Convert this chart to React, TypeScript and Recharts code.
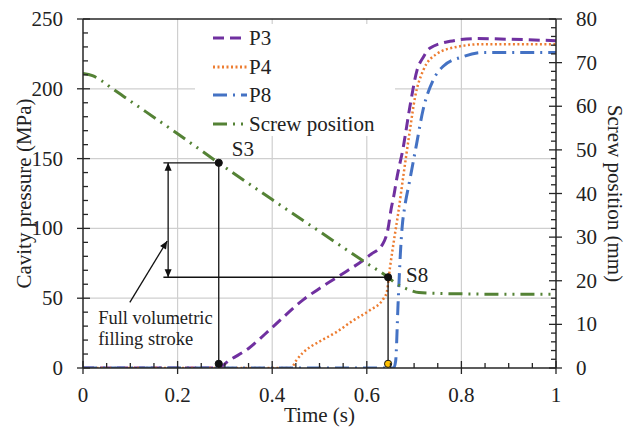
import React from 'react';
import {
    ComposedChart,
    Line,
    XAxis,
    YAxis,
    CartesianGrid,
    ReferenceLine,
    ReferenceDot,
    Legend,
    Label,
} from 'recharts';

const FONT = '"Liberation Serif", "Times New Roman", Times, serif';
const AXIS = '#262626';
const TXT = { fontFamily: FONT, fontSize: 21, fill: '#222' };

// cavity pressure curves (MPa) vs time (s)
const p3Time = [0, 0.29, 0.3, 0.35, 0.4, 0.466, 0.5, 0.537, 0.607, 0.634, 0.645, 0.651, 0.658, 0.663, 0.677, 0.691, 0.706, 0.72, 0.733, 0.776, 0.833, 0.9, 1];
const p3Pressure = [0, 0, 3, 14, 29, 49, 57, 65, 81, 89, 100, 113, 125, 135, 158, 187, 213, 223, 229, 234, 236, 235.5, 234.5];

const p4Time = [0, 0.44, 0.45, 0.465, 0.48, 0.5, 0.537, 0.571, 0.607, 0.634, 0.642, 0.649, 0.66, 0.666, 0.677, 0.691, 0.702, 0.719, 0.748, 0.79, 0.846, 1];
const p4Pressure = [0, 0, 5, 11, 15, 19, 26, 34, 41.5, 49, 54, 72, 97, 110, 137, 170, 194, 213, 225, 230, 232, 232];

const p8Time = [0, 0.657, 0.661, 0.666, 0.671, 0.675, 0.68, 0.69, 0.705, 0.719, 0.74, 0.761, 0.803, 0.846, 1];
const p8Pressure = [0, 0, 5, 45, 82, 102, 115, 133, 160, 185, 206, 216, 223, 226, 226];

// screw position (mm), right axis
const screwTime = [0, 0.02, 0.04, 0.06, 0.1, 0.2, 0.287, 0.4, 0.5, 0.6, 0.645, 0.66, 0.675, 0.69, 0.71, 0.75, 0.8, 0.9, 1];
const screwPos = [67.5, 67, 65.8, 64.2, 61.2, 53.7, 47, 38.6, 31.3, 24, 20.8, 19.5, 18.6, 17.9, 17.3, 17.1, 17, 16.9, 16.9];

// annotation points (time, MPa)
const s3 = { t: 0.287, p: 147 };
const s8 = { t: 0.645, p: 65 };
const strokeBase = 3;
const strokeArrowX = 0.18;
const strokeLeftX = 0.17;
const noteText = ['Full volumetric', 'filling stroke'];
const noteAnchor = { t: 0.032, p: 36 };
const notePointer = [{ t: 0.099, p: 47 }, { t: 0.178, p: 91 }];

// axis ticks
const xMajor = [0, 0.2, 0.4, 0.6, 0.8, 1];
const leftMajor = [0, 50, 100, 150, 200, 250];
const rightMajor = [0, 10, 20, 30, 40, 50, 60, 70, 80];
const xTicks = Array.from({ length: 21 }, (_, i) => Math.round(i * 5) / 100);
const leftTicks = Array.from({ length: 26 }, (_, i) => i * 10);
const rightTicks = Array.from({ length: 41 }, (_, i) => i * 2);

const toPoints = (ts: number[], vs: number[], key: string) => ts.map((t, i) => ({ t, [key]: vs[i] }));

const p3Data = toPoints(p3Time, p3Pressure, 'P3');
const p4Data = toPoints(p4Time, p4Pressure, 'P4');
const p8Data = toPoints(p8Time, p8Pressure, 'P8');
const screwData = toPoints(screwTime, screwPos, 'Screw position');

const SERIES = [
    { name: 'P3', color: '#7030A0', dash: '11 6' },
    { name: 'P4', color: '#ED7D31', dash: '2 2.5' },
    { name: 'P8', color: '#4472C4', dash: '14 6 2 6' },
    { name: 'Screw position', color: '#548235', dash: '14 6 2 6 2 6' },
];

const isMajor = (list: number[], v: number) => list.some((m) => Math.abs(m - v) < 1e-9);

const bottomTick = (props: any) => {
    const { x, y, payload } = props;
    const v = payload.value;
    const major = isMajor(xMajor, v);
    return (
        <g>
            <line x1={x} x2={x} y1={major ? y - 7 : y - 5} y2={major ? y + 6 : y} stroke={AXIS} strokeWidth={1.3} />
            {major && (
                <text x={x} y={y + 27} textAnchor="middle" dominantBaseline="central" style={TXT}>
                    {String(v)}
                </text>
            )}
        </g>
    );
};

const leftTick = (props: any) => {
    const { x, y, payload } = props;
    const v = payload.value;
    const major = isMajor(leftMajor, v);
    return (
        <g>
            <line x1={major ? x - 6 : x} x2={major ? x + 7 : x + 5} y1={y} y2={y} stroke={AXIS} strokeWidth={1.3} />
            {major && (
                <text x={x - 20} y={y} textAnchor="end" dominantBaseline="central" style={TXT}>
                    {String(v)}
                </text>
            )}
        </g>
    );
};

const rightTick = (props: any) => {
    const { x, y, payload } = props;
    const v = payload.value;
    const major = isMajor(rightMajor, v);
    return (
        <g>
            <line x1={major ? x - 7 : x - 5} x2={major ? x + 6 : x} y1={y} y2={y} stroke={AXIS} strokeWidth={1.3} />
            {major && (
                <text x={x + 20} y={y} textAnchor="start" dominantBaseline="central" style={TXT}>
                    {String(v)}
                </text>
            )}
        </g>
    );
};

const arrowHead = (x1: number, y1: number, x2: number, y2: number) => {
    const len = Math.hypot(x2 - x1, y2 - y1) || 1;
    const ux = (x2 - x1) / len;
    const uy = (y2 - y1) / len;
    const L = 8;
    const W = 3.5;
    const bx = x2 - ux * L;
    const by = y2 - uy * L;
    return `${x2},${y2} ${bx - uy * W},${by + ux * W} ${bx + uy * W},${by - ux * W}`;
};

const doubleArrow = (props: any) => {
    const { x1, y1, x2, y2 } = props;
    return (
        <g>
            <line x1={x1} y1={y1} x2={x2} y2={y2} stroke="#111" strokeWidth={1.3} />
            <polygon points={arrowHead(x1, y1, x2, y2)} fill="#111" />
            <polygon points={arrowHead(x2, y2, x1, y1)} fill="#111" />
        </g>
    );
};

const singleArrow = (props: any) => {
    const { x1, y1, x2, y2 } = props;
    return (
        <g>
            <line x1={x1} y1={y1} x2={x2} y2={y2} stroke="#111" strokeWidth={1.3} />
            <polygon points={arrowHead(x1, y1, x2, y2)} fill="#111" />
        </g>
    );
};

const dotWithText = (text: string, dx: number, dy: number, fill = '#111') => (props: any) => {
    const { cx, cy } = props;
    return (
        <g>
            <circle cx={cx} cy={cy} r={3.6} fill={fill} stroke="#111" strokeWidth={1} />
            {text && (
                <text x={cx + dx} y={cy + dy} dominantBaseline="central" style={TXT}>
                    {text}
                </text>
            )}
        </g>
    );
};

const noteShape = (props: any) => {
    const { cx, cy } = props;
    return (
        <text style={{ ...TXT, fontSize: 18.5 }}>
            {noteText.map((line, i) => (
                <tspan key={line} x={cx} y={cy + i * 21} dominantBaseline="central">
                    {line}
                </tspan>
            ))}
        </text>
    );
};

const renderLegend = () => (
    <div style={{ background: '#fff', width: 200, height: 112, fontFamily: FONT, fontSize: 21, color: '#222' }}>
        {SERIES.map((s) => (
            <div key={s.name} style={{ display: 'flex', alignItems: 'center', height: 28.5 }}>
                <svg width={52} height={8} style={{ display: 'block' }}>
                    <line x1={18} x2={52} y1={4} y2={4} stroke={s.color} strokeWidth={3} strokeDasharray={s.dash} />
                </svg>
                <span style={{ marginLeft: 2, lineHeight: '28px' }}>{s.name}</span>
            </div>
        ))}
    </div>
);

export default function App() {
    return (
        <div style={{ position: 'absolute', left: 0, top: 0, width: 635, height: 431, background: '#fff', fontFamily: FONT }}>
            <ComposedChart width={635} height={431} margin={{ top: 19, right: 0, bottom: 0, left: 0 }} style={{ fontFamily: FONT }}>
                <CartesianGrid
                    yAxisId="left"
                    stroke="#cfcfcf"
                    strokeWidth={1.2}
                    horizontalValues={[50, 100, 150, 200]}
                    verticalValues={[0.2, 0.4, 0.6, 0.8]}
                />
                <XAxis
                    dataKey="t"
                    type="number"
                    domain={[0, 1]}
                    ticks={xTicks}
                    interval={0}
                    height={63}
                    tickLine={false}
                    tickSize={0}
                    tickMargin={0}
                    tick={bottomTick}
                    axisLine={{ stroke: AXIS, strokeWidth: 1.5 }}
                    allowDataOverflow
                >
                    <Label
                        content={(p: any) => (
                            <text x={p.viewBox.x + p.viewBox.width / 2} y={p.viewBox.y + 47} textAnchor="middle" dominantBaseline="central" style={TXT}>
                                Time (s)
                            </text>
                        )}
                    />
                </XAxis>
                <YAxis
                    yAxisId="left"
                    type="number"
                    domain={[0, 250]}
                    ticks={leftTicks}
                    interval={0}
                    width={83}
                    tickLine={false}
                    tickSize={0}
                    tickMargin={0}
                    tick={leftTick}
                    axisLine={{ stroke: AXIS, strokeWidth: 1.5 }}
                    allowDataOverflow
                >
                    <Label
                        content={(p: any) => {
                            const cx = p.viewBox.x + 24;
                            const cy = p.viewBox.y + p.viewBox.height / 2;
                            return (
                                <text x={cx} y={cy} transform={`rotate(-90 ${cx} ${cy})`} textAnchor="middle" dominantBaseline="central" style={TXT}>
                                    Cavity pressure (MPa)
                                </text>
                            );
                        }}
                    />
                </YAxis>
                <YAxis
                    yAxisId="right"
                    orientation="right"
                    type="number"
                    domain={[0, 80]}
                    ticks={rightTicks}
                    interval={0}
                    width={79}
                    tickLine={false}
                    tickSize={0}
                    tickMargin={0}
                    tick={rightTick}
                    axisLine={{ stroke: AXIS, strokeWidth: 1.5 }}
                    allowDataOverflow
                >
                    <Label
                        content={(p: any) => {
                            const cx = p.viewBox.x + 59;
                            const cy = p.viewBox.y + p.viewBox.height / 2;
                            return (
                                <text x={cx} y={cy} transform={`rotate(90 ${cx} ${cy})`} textAnchor="middle" dominantBaseline="central" style={TXT}>
                                    Screw position (mm)
                                </text>
                            );
                        }}
                    />
                </YAxis>

                <ReferenceLine yAxisId="left" y={250} stroke={AXIS} strokeWidth={1.5} />

                <Legend
                    layout="vertical"
                    align="center"
                    verticalAlign="middle"
                    width={200}
                    height={112}
                    wrapperStyle={{ left: 195, top: 24, width: 200, height: 112 }}
                    content={renderLegend}
                />

                <Line yAxisId="left" data={p3Data} dataKey="P3" name="P3" type="monotone" stroke={SERIES[0].color} strokeWidth={3} strokeDasharray={SERIES[0].dash} dot={false} isAnimationActive={false} />
                <Line yAxisId="left" data={p4Data} dataKey="P4" name="P4" type="monotone" stroke={SERIES[1].color} strokeWidth={2.5} strokeDasharray={SERIES[1].dash} dot={false} isAnimationActive={false} />
                <Line yAxisId="left" data={p8Data} dataKey="P8" name="P8" type="monotone" stroke={SERIES[2].color} strokeWidth={3} strokeDasharray={SERIES[2].dash} dot={false} isAnimationActive={false} />
                <Line yAxisId="right" data={screwData} dataKey="Screw position" name="Screw position" type="monotone" stroke={SERIES[3].color} strokeWidth={3} strokeDasharray={SERIES[3].dash} dot={false} isAnimationActive={false} />

                {/* filling stroke annotation */}
                <ReferenceLine yAxisId="left" segment={[{ x: strokeLeftX, y: s3.p }, { x: s3.t, y: s3.p }]} stroke="#111" strokeWidth={1.3} />
                <ReferenceLine yAxisId="left" segment={[{ x: s3.t, y: s3.p }, { x: s3.t, y: strokeBase }]} stroke="#111" strokeWidth={1.3} />
                <ReferenceLine yAxisId="left" segment={[{ x: strokeLeftX, y: s8.p }, { x: s8.t, y: s8.p }]} stroke="#111" strokeWidth={1.3} />
                <ReferenceLine yAxisId="left" segment={[{ x: s8.t, y: s8.p }, { x: s8.t, y: strokeBase }]} stroke="#111" strokeWidth={1.3} />
                <ReferenceLine yAxisId="left" segment={[{ x: strokeArrowX, y: s3.p }, { x: strokeArrowX, y: s8.p }]} shape={doubleArrow} />
                <ReferenceLine
                    yAxisId="left"
                    segment={[{ x: notePointer[0].t, y: notePointer[0].p }, { x: notePointer[1].t, y: notePointer[1].p }]}
                    shape={singleArrow}
                />
                <ReferenceDot yAxisId="left" x={s3.t} y={s3.p} shape={dotWithText('S3', 13, -14)} />
                <ReferenceDot yAxisId="left" x={s8.t} y={s8.p} shape={dotWithText('S8', 18, -2)} />
                <ReferenceDot yAxisId="left" x={s3.t} y={strokeBase} shape={dotWithText('', 0, 0)} />
                <ReferenceDot yAxisId="left" x={s8.t} y={strokeBase} shape={dotWithText('', 0, 0, '#FFC000')} />
                <ReferenceDot yAxisId="left" x={noteAnchor.t} y={noteAnchor.p} shape={noteShape} />
            </ComposedChart>
        </div>
    );
}
